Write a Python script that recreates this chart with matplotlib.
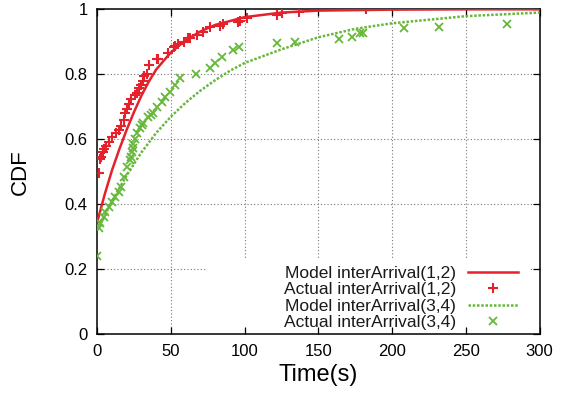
import matplotlib
matplotlib.use("Agg")
import matplotlib.pyplot as plt
from matplotlib.patches import Rectangle

plt.rcParams['font.family'] = ['Liberation Sans', 'DejaVu Sans']

# ---- data ----
model12_x = [0, 5, 10, 15, 20, 25, 30, 35, 40, 50, 60, 70, 80, 100, 125, 150, 200, 250, 300]
model12_y = [0.346, 0.43, 0.505, 0.57, 0.63, 0.685, 0.735, 0.778, 0.815, 0.868, 0.905,
             0.932, 0.952, 0.976, 0.99, 0.996, 0.999, 1.0, 1.0]

actual12_x = [0, 1.4, 2, 2.7, 4, 4.3, 5.9, 7.7, 10, 12.7, 14.5, 16.3, 18.1, 19, 20.4, 21.7,
              23, 25.4, 27, 28.1, 29.9, 30.8, 31.5, 33.7, 35.3, 40.3, 41.2, 48, 52, 52.5,
              54.8, 58.5, 61.8, 63, 67.5, 72, 76.5, 83.3, 85.5, 95.7, 96.9, 101.4, 121.8,
              125, 137, 182]
actual12_y = [0.346, 0.497, 0.539, 0.546, 0.56, 0.569, 0.579, 0.593, 0.606, 0.618, 0.629,
              0.641, 0.659, 0.68, 0.692, 0.709, 0.723, 0.736, 0.743, 0.757, 0.767, 0.78,
              0.795, 0.80, 0.829, 0.846, 0.847, 0.866, 0.884, 0.886, 0.892, 0.90, 0.911,
              0.911, 0.921, 0.931, 0.945, 0.950, 0.955, 0.962, 0.964, 0.972, 0.982, 0.988,
              0.993, 1.0]

model34_x = [0, 5, 10, 20, 30, 40, 50, 60, 70, 80, 90, 100, 125, 150, 175, 200, 250, 300]
model34_y = [0.32, 0.365, 0.41, 0.49, 0.56, 0.62, 0.67, 0.713, 0.75, 0.782, 0.811, 0.835,
             0.877, 0.914, 0.94, 0.957, 0.979, 0.99]

actual34_x = [0, 1, 2, 4.3, 5.4, 7.7, 10, 12.2, 14.5, 16.3, 17.9, 20.2, 22.4, 23, 23.6, 24,
              24.4, 25.4, 26.7, 29, 30.3, 31.2, 34.6, 36.7, 38, 40.3, 43.7, 46, 49.3, 52.7,
              56.1, 67, 76.5, 80, 84.4, 92.3, 96.4, 122, 134, 164, 173, 178, 180, 208, 232, 278]
actual34_y = [0.241, 0.326, 0.341, 0.362, 0.377, 0.393, 0.408, 0.423, 0.439, 0.454, 0.485,
              0.516, 0.536, 0.545, 0.562, 0.572, 0.585, 0.60, 0.618, 0.634, 0.644, 0.649,
              0.67, 0.675, 0.682, 0.70, 0.716, 0.731, 0.746, 0.767, 0.788, 0.80, 0.818,
              0.834, 0.854, 0.875, 0.885, 0.895, 0.90, 0.908, 0.914, 0.926, 0.928, 0.942,
              0.947, 0.955]

labels = ['Model interArrival(1,2)', 'Actual interArrival(1,2)',
          'Model interArrival(3,4)', 'Actual interArrival(3,4)']
xticks = [0, 50, 100, 150, 200, 250, 300]
yticks = [0, 0.2, 0.4, 0.6, 0.8, 1.0]
yticklabels = ['0', '0.2', '0.4', '0.6', '0.8', '1']

RED = '#e5222b'
GREEN = '#66b83a'

fig = plt.figure(figsize=(5.62, 3.95), dpi=100)
ax = fig.add_axes([0.1731, 0.1537, 0.7869, 0.8227])
ax.set_xlim(0, 300)
ax.set_ylim(0, 1)

# grid (drawn manually so that the legend area can hide it while ticks stay visible)
for xv in xticks[1:-1]:
    ax.axvline(xv, color='#777777', lw=0.8, ls=(0, (1, 2)), zorder=0.5)
for yv in yticks[1:-1]:
    ax.axhline(yv, color='#777777', lw=0.8, ls=(0, (1, 2)), zorder=0.5)
ax.add_patch(Rectangle((0.248, 0.0), 0.7305, 0.235, transform=ax.transAxes,
                       facecolor='white', edgecolor='none', zorder=0.8))

l1, = ax.plot(model12_x, model12_y, color=RED, lw=1.8, zorder=3)
l2, = ax.plot(actual12_x, actual12_y, ls='none', marker='+', ms=7.5, mew=1.5, color=RED, zorder=3)
l3, = ax.plot(model34_x, model34_y, color=GREEN, lw=1.8, ls=(0, (1.0, 0.7)), zorder=3)
l4, = ax.plot(actual34_x, actual34_y, ls='none', marker='x', ms=5.5, mew=1.3, color=GREEN, zorder=3)

ax.set_xticks(xticks)
ax.set_yticks(yticks)
ax.set_yticklabels(yticklabels)
ax.tick_params(direction='in', length=5, width=0.9, top=True, right=True,
               labelsize=12, pad=7, colors='black')
for s in ax.spines.values():
    s.set_linewidth(1.1)

ax.set_xlabel('Time(s)', fontsize=17)
ax.set_ylabel('CDF', fontsize=16)
ax.xaxis.set_label_coords(0.5, -0.09)
ax.yaxis.set_label_coords(-0.15, 0.5)

leg = ax.legend([l1, l2, l3, l4], labels, loc='lower right', bbox_to_anchor=(0.952, 0.012),
                frameon=False, markerfirst=False, fontsize=12.5, handlelength=2.9,
                handletextpad=0.7, labelspacing=0.08, borderpad=0, borderaxespad=0)
for t in leg.get_texts():
    t.set_color('#1a1a1a')

fig.savefig('out.png', dpi=100)
